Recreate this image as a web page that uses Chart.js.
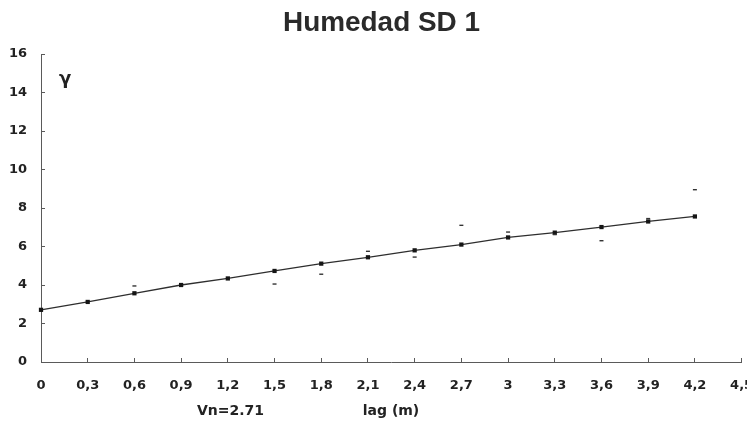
<!DOCTYPE html>
<html><head><meta charset="utf-8">
<script src="https://cdn.jsdelivr.net/npm/chart.js@4.4.1/dist/chart.umd.min.js"></script>
<style>html,body{margin:0;padding:0;background:#fff;overflow:hidden}#wrap{width:747px;height:429px;position:relative}</style>
</head><body><div id="wrap"><canvas id="c" width="747" height="429"></canvas></div>
<script>
const chartTitle = 'Humedad SD 1';
const xAxisTitle = 'lag (m)';
const yAxisTitle = 'γ';
const nuggetLabel = 'Vn=2.71';

const lags = [0, 0.3, 0.6, 0.9, 1.2, 1.5, 1.8, 2.1, 2.4, 2.7, 3.0, 3.3, 3.6, 3.9, 4.2];
const modelValues = [2.71, 3.12, 3.57, 4.00, 4.34, 4.73, 5.11, 5.44, 5.80, 6.10, 6.47, 6.72, 7.01, 7.30, 7.56];

const expLags = [0.6, 1.5, 1.8, 2.1, 2.4, 2.7, 3.0, 3.3, 3.6, 3.9, 4.2];
const expValues = [3.95, 4.05, 4.56, 5.75, 5.45, 7.10, 6.75, 6.62, 6.30, 7.45, 8.95];

const xTickValues = [0, 0.3, 0.6, 0.9, 1.2, 1.5, 1.8, 2.1, 2.4, 2.7, 3.0, 3.3, 3.6, 3.9, 4.2, 4.5];
const xTickLabels = ['0', '0,3', '0,6', '0,9', '1,2', '1,5', '1,8', '2,1', '2,4', '2,7', '3', '3,3', '3,6', '3,9', '4,2', '4,5'];
const yTickValues = [0, 2, 4, 6, 8, 10, 12, 14, 16];
const yTickLabels = ['0', '2', '4', '6', '8', '10', '12', '14', '16'];

const ink = '#222';
const axisColor = '#5a5a5a';

const textPlugin = {
  id: 'texts',
  afterDraw(chart) {
    const ctx = chart.ctx;
    ctx.save();
    ctx.fillStyle = '#2a2a2a';
    ctx.font = 'bold 28px "Liberation Sans", Arial, sans-serif';
    const w = ctx.measureText(chartTitle).width;
    const sx = 197 / w;
    ctx.textAlign = 'center';
    ctx.textBaseline = 'alphabetic';
    ctx.translate(381.5, 31);
    ctx.scale(sx, 1);
    ctx.fillText(chartTitle, 0, 0);
    ctx.restore();
    ctx.save();
    ctx.fillStyle = ink;
    ctx.font = 'bold 18px "DejaVu Sans", sans-serif';
    ctx.textAlign = 'left';
    ctx.textBaseline = 'alphabetic';
    ctx.fillText(yAxisTitle, 59, 84);
    ctx.font = 'bold 14px "DejaVu Sans", sans-serif';
    ctx.fillText(nuggetLabel, 197, 415);
    ctx.textAlign = 'center';
    ctx.fillText(xAxisTitle, 391, 415);
    ctx.restore();
  }
};

new Chart(document.getElementById('c'), {
  type: 'scatter',
  data: {
    datasets: [
      {
        label: 'modelo',
        data: lags.map((x, i) => ({x: x, y: modelValues[i]})),
        showLine: true,
        borderColor: '#2e2e2e',
        borderWidth: 1.3,
        pointStyle: 'rect',
        pointRadius: 3,
        pointBackgroundColor: '#151515',
        pointBorderColor: '#151515',
        pointBorderWidth: 0,
        clip: false,
        order: 2
      },
      {
        label: 'experimental',
        data: expLags.map((x, i) => ({x: x, y: expValues[i]})),
        showLine: false,
        pointStyle: 'line',
        pointRadius: 2,
        borderColor: '#333',
        pointBorderColor: '#333',
        pointBorderWidth: 1.4,
        clip: false,
        order: 1
      }
    ]
  },
  options: {
    responsive: false,
    devicePixelRatio: 1,
    animation: false,
    layout: {padding: {top: 54, right: 5, left: 0, bottom: 0}},
    plugins: {legend: {display: false}, tooltip: {enabled: false}, title: {display: false}},
    scales: {
      x: {
        type: 'linear',
        min: 0, max: 4.5,
        afterBuildTicks: s => { s.ticks = xTickValues.map(v => ({value: v})); },
        afterFit: s => { s.height = 67; s.paddingLeft = 0; s.paddingRight = 0; },
        border: {display: true, color: axisColor, width: 1},
        grid: {display: true, drawOnChartArea: false, drawTicks: true, tickLength: -4, color: axisColor},
        ticks: {
          autoSkip: false, maxRotation: 0, padding: 20,
          color: ink,
          font: {family: '"DejaVu Sans", sans-serif', weight: 'bold', size: 13},
          callback: (v, i) => xTickLabels[i]
        }
      },
      y: {
        type: 'linear',
        min: 0, max: 16,
        afterBuildTicks: s => { s.ticks = yTickValues.map(v => ({value: v})); },
        afterFit: s => { s.width = 41; s.paddingTop = 0; s.paddingBottom = 0; },
        border: {display: true, color: axisColor, width: 1},
        grid: {display: true, drawOnChartArea: false, drawTicks: true, tickLength: -4, color: axisColor},
        ticks: {
          padding: 18,
          color: ink,
          font: {family: '"DejaVu Sans", sans-serif', weight: 'bold', size: 13},
          callback: (v, i) => yTickLabels[i]
        }
      }
    }
  },
  plugins: [textPlugin]
});
</script>
</body></html>
